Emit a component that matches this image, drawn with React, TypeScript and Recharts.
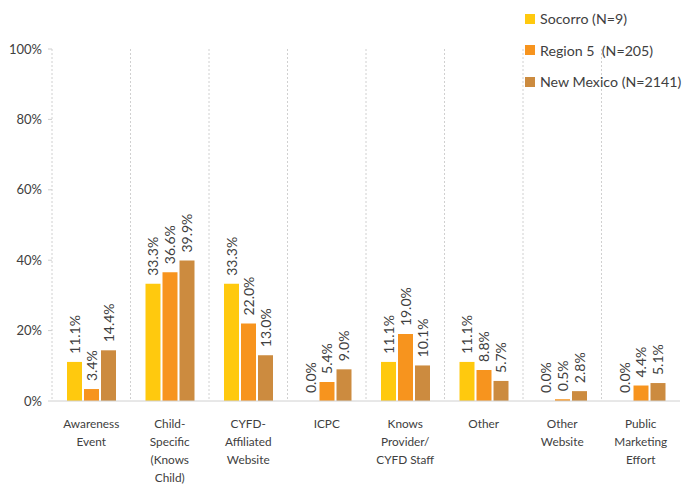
import { BarChart, Bar, XAxis, YAxis, CartesianGrid, Rectangle } from 'recharts';

const categories = [
  'Awareness\nEvent',
  'Child-\nSpecific\n(Knows\nChild)',
  'CYFD-\nAffiliated\nWebsite',
  'ICPC',
  'Knows\nProvider/\nCYFD Staff',
  'Other',
  'Other\nWebsite',
  'Public\nMarketing\nEffort',
];

const socorro = [11.1, 33.3, 33.3, 0.0, 11.1, 11.1, 0.0, 0.0];
const region5 = [3.4, 36.6, 22.0, 5.4, 19.0, 8.8, 0.5, 4.4];
const newMexico = [14.4, 39.9, 13.0, 9.0, 10.1, 5.7, 2.8, 5.1];

const yTicks = [0, 20, 40, 60, 80, 100];

const SERIES = [
  { key: 'socorro', label: 'Socorro (N=9)', color: '#FFC90E' },
  { key: 'region5', label: 'Region 5  (N=205)', color: '#F7941E' },
  { key: 'newMexico', label: 'New Mexico (N=2141)', color: '#CC8B3F' },
];

const data = categories.map((name, i) => ({
  name,
  socorro: socorro[i],
  region5: region5[i],
  newMexico: newMexico[i],
}));

const FONT = 'Lato, "Liberation Sans", sans-serif';
const TEXT = '#404040';

function CategoryTick({ x, payload }: any) {
  const lines = String(payload.value).split('\n');
  return (
    <text x={x} y={428} textAnchor="middle" fill={TEXT} fontSize={11.8} fontFamily={FONT}>
      {lines.map((l, i) => (
        <tspan key={i} x={x} dy={i === 0 ? 0 : 18}>{l}</tspan>
      ))}
    </text>
  );
}

// bar rect plus its rotated value label (so 0.0% bars still get a label)
function LabelledBar(props: any) {
  const { x, y, width, height, fill, value } = props;
  const v = Array.isArray(value) ? value[1] - value[0] : value;
  const cx = x + width / 2;
  const ty = y - 8;
  return (
    <g>
      {height > 0 && <Rectangle x={x} y={y} width={width} height={height} fill={fill} />}
      <text
        x={cx}
        y={ty}
        transform={`rotate(-90 ${cx} ${ty})`}
        textAnchor="start"
        dominantBaseline="central"
        fill={TEXT}
        fontSize={14}
        fontFamily={FONT}
      >
        {`${Number(v).toFixed(1)}%`}
      </text>
    </g>
  );
}

function LegendBox() {
  return (
    <div
      style={{
        position: 'absolute',
        top: 3,
        left: 525,
        fontFamily: FONT,
        fontSize: 14.2,
        color: TEXT,
        whiteSpace: 'nowrap',
      }}
    >
      {SERIES.map((s) => (
        <div key={s.key} style={{ display: 'flex', alignItems: 'center', height: 31.5 }}>
          <span style={{ width: 10, height: 10, background: s.color, marginRight: 5, display: 'inline-block' }} />
          <span style={{ whiteSpace: 'pre' }}>{s.label}</span>
        </div>
      ))}
    </div>
  );
}

export default function App() {
  return (
    <div style={{ position: 'absolute', left: 0, top: 0, width: 686, height: 487, background: '#fff', overflow: 'hidden' }}>
      <BarChart
        width={686}
        height={487}
        data={data}
        margin={{ top: 49, right: 6, bottom: 0, left: 0 }}
        barGap={2}
        barSize={15}
      >
        <CartesianGrid
          horizontal={false}
          stroke="#D0D0D0"
          strokeDasharray="2 2"
          verticalCoordinatesGenerator={({ offset }: any) =>
            categories.map((_, i) => offset.left + (i * offset.width) / categories.length)
          }
        />
        <XAxis
          dataKey="name"
          interval={0}
          tick={<CategoryTick />}
          tickLine={false}
          axisLine={{ stroke: '#D0D0D0' }}
          height={86}
        />
        <YAxis
          domain={[0, 100]}
          ticks={yTicks}
          width={52}
          tickFormatter={(v: number) => `${v}%`}
          tick={{ fill: TEXT, fontSize: 13, fontFamily: FONT }}
          tickSize={4}
          tickMargin={6}
          tickLine={{ stroke: '#D0D0D0' }}
          axisLine={false}
        />
        {SERIES.map((s) => (
          <Bar
            key={s.key}
            dataKey={s.key}
            name={s.label}
            fill={s.color}
            shape={<LabelledBar />}
            isAnimationActive={false}
          />
        ))}
      </BarChart>
      <LegendBox />
    </div>
  );
}
